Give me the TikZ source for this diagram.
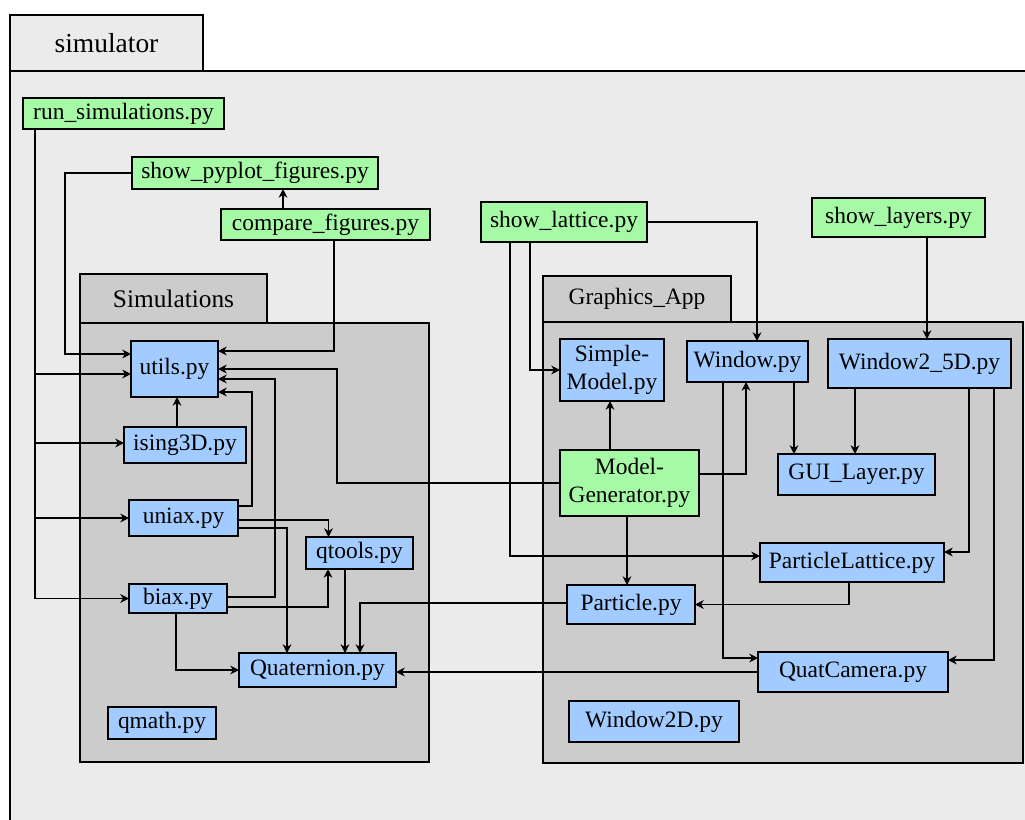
\documentclass[tikz,border=0pt]{standalone}
\usepackage{fontspec}
\setmainfont{Liberation Serif}
\usetikzlibrary{arrows.meta, calc}
\definecolor{bgfill}{HTML}{EBEBEB}
\definecolor{pkgfill}{HTML}{CCCCCC}
\definecolor{scriptfill}{HTML}{A6FAA6}
\definecolor{modfill}{HTML}{A2CCFF}
\newcommand{\boxfont}{\fontsize{17.6pt}{20.6pt}\selectfont}
\tikzset{
  sz/.style 2 args = {minimum width=#1*0.75pt, minimum height=#2*0.75pt},
  modblk/.style   = {rectangle, draw=black, fill=modfill, line width=1.4pt,
                     align=center, font=\boxfont, inner sep=0pt, outer sep=0pt},
  srcblk/.style   = {modblk, fill=scriptfill},
  pkgtab/.style   = {rectangle, draw=black, fill=pkgfill, line width=1.4pt,
                     font=\boxfont, inner sep=0pt, outer sep=0pt},
  pkgframe/.style = {draw=black, fill=pkgfill, line width=1.4pt},
  flow/.style     = {-{Stealth[length=6.5pt, width=6.5pt, inset=2pt]}, line width=1.4pt},
}

\begin{document}
\begin{tikzpicture}[x=0.75pt, y=-0.75pt]
    \useasboundingbox (0,0) rectangle (1025,819);
    \clip (0,0) rectangle (1025,819);
    % packages
    \draw[pkgframe, fill=bgfill] (10,71) rectangle (1040,840);
    \node[pkgtab, fill=bgfill, sz={193}{56}, font=\fontsize{20.6pt}{22pt}\selectfont] (simtab) at (106.5,43) {simulator};
    \draw[pkgframe] (80,323) rectangle (429,762);
    \node[pkgtab, sz={187}{49}, font=\fontsize{19pt}{21pt}\selectfont] (simstab) at (173.5,298.5) {Simulations};
    \draw[pkgframe] (543,322) rectangle (1023,763);
    \node[pkgtab, sz={188}{46}] (gfxtab) at (637,299) {Graphics\_App};

    % scripts
    \node[srcblk, sz={201}{31}] (runsim) at (123.5,113.5) {run\_simulations.py};
    \node[srcblk, sz={246}{32}] (showpy) at (255,173) {show\_pyplot\_figures.py};
    \node[srcblk, sz={209}{31}] (compare) at (325.5,224.5) {compare\_figures.py};
    \node[srcblk, sz={166}{40}] (showlat) at (564,222) {show\_lattice.py};
    \node[srcblk, sz={173}{39}] (showlay) at (898.5,217.5) {show\_layers.py};

    % Simulations
    \node[modblk, sz={87}{56}] (utils) at (174.5,369) {utils.py};
    \node[modblk, sz={122}{36}] (ising) at (185,445) {ising3D.py};
    \node[modblk, sz={109}{36}] (uniax) at (183.5,518) {uniax.py};
    \node[modblk, sz={107}{32}] (qtools) at (359.5,553) {qtools.py};
    \node[modblk, sz={98}{29}] (biax) at (178,598.5) {biax.py};
    \node[modblk, sz={157}{34}] (quat) at (317.5,670) {Quaternion.py};
    \node[modblk, sz={108}{32}] (qmath) at (162,723) {qmath.py};

    % Graphics_App
    \node[modblk, sz={104}{62}] (simple) at (612,370) {Simple-\\Model.py};
    \node[modblk, sz={121}{41}] (window) at (747.5,361.5) {Window.py};
    \node[modblk, sz={183}{49}] (win25) at (919.5,363.5) {Window2\_5D.py};
    \node[srcblk, sz={139}{66}] (modgen) at (629.5,483) {Model-\\Generator.py};
    \node[modblk, sz={157}{41}] (gui) at (856.5,474.5) {GUI\_Layer.py};
    \node[modblk, sz={184}{39}] (plat) at (852,562.5) {ParticleLattice.py};
    \node[modblk, sz={128}{39}] (particle) at (631,604.5) {Particle.py};
    \node[modblk, sz={190}{40}] (quatcam) at (853,672) {QuatCamera.py};
    \node[modblk, sz={170}{41}] (win2d) at (654,721.5) {Window2D.py};

    % straight drops
    \foreach \src/\dst/\gx in {compare.north/showpy.south/283, ising.north/utils.south/177,
        qtools.south/quat.north/345, showlay.south/win25.north/927, modgen.north/simple.south/610,
        modgen.south/particle.north/627, window.south/gui.north/794, win25.south/gui.north/855}
      {\draw[flow] (\src -| \gx,0) -- (\dst -| \gx,0);}

    % run_simulations
    \foreach \dst/\dy in {utils/5, ising/-2, uniax/0, biax/0}
      {\draw[flow] (runsim.south -| 35,0) |- ($(\dst.west)+(0,\dy)$);}
    \draw[flow] (showpy.west) -- (showpy.west -| 65,0) |- ($(utils.west)+(0,-15)$);
    \draw[flow] (compare.south -| 334,0) |- ($(utils.east)+(0,-18)$);

    % into utils / qtools / Quaternion
    \draw[flow] (modgen.west) -| ($(utils.east)+(119,0)$) -- (utils.east);
    \draw[flow] ($(biax.east)+(0,-1.5)$) -| ($(utils.east)+(57,10)$) -- ($(utils.east)+(0,10)$);
    \draw[flow] ($(uniax.east)+(0,-12)$) -| ($(utils.east)+(34,23)$) -- ($(utils.east)+(0,23)$);
    \draw[flow] ($(uniax.east)+(0,2)$) -| ($(qtools.north)+(-31,0)$);
    \draw[flow] ($(uniax.east)+(0,10)$) -| ($(quat.north)+(-30.5,0)$);
    \draw[flow] ($(biax.east)+(0,8.5)$) -| ($(qtools.south)+(-31.5,0)$);
    \draw[flow] ($(biax.south)+(-2,0)$) |- (quat.west);
    \draw[flow] ($(particle.west)+(0,-1.5)$) -| ($(quat.north)+(42.5,0)$);
    \draw[flow] (quatcam.west) -- (quatcam.west -| quat.east);

    % Graphics_App links
    \draw[flow] (showlat.east) -| ($(window.north)+(9.5,0)$);
    \draw[flow] (showlat.south -| 530,0) |- (simple.west);
    \draw[flow] (showlat.south -| 510,0) |- ($(plat.west)+(0,-6.5)$);
    \draw[flow] ($(modgen.east)+(0,-9)$) -| ($(window.south)+(-1.5,0)$);
    \draw[flow] (window.south -| 723,0) |- ($(quatcam.west)+(0,-14)$);
    \draw[flow] (win25.south -| 969,0) |- ($(plat.east)+(0,-10.5)$);
    \draw[flow] (win25.south -| 994,0) |- ($(quatcam.east)+(0,-12)$);
    \draw[flow] (plat.south -| 849,0) |- (particle.east);
\end{tikzpicture}
\end{document}
